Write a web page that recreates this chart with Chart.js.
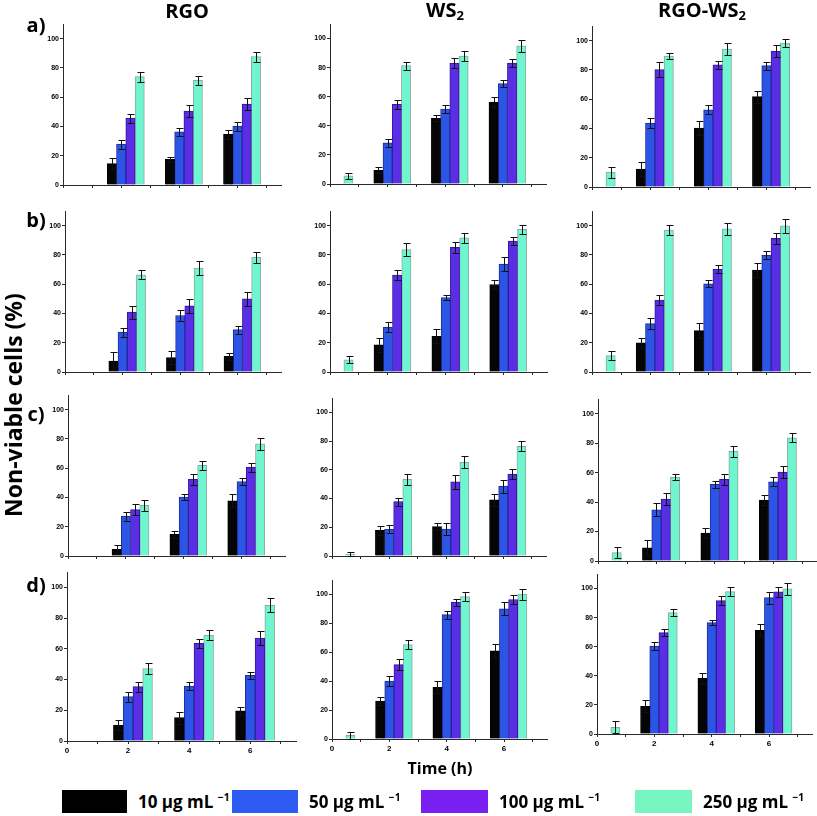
<!DOCTYPE html>
<html>
<head>
<meta charset="utf-8">
<script src="https://cdn.jsdelivr.net/npm/chart.js@4.4.0/dist/chart.umd.min.js"></script>
<style>
  body { margin: 0; background: #fff; }
  #page { position: relative; width: 817px; height: 816px; overflow: hidden; font-family: 'Open Sans', sans-serif; }
  #page canvas { position: absolute; }
  .txt { position: absolute; font-weight: bold; white-space: nowrap; color: #000; line-height: 1; }
  .center { transform: translate(-50%, -50%); }
  .swatch { position: absolute; }
  sub { font-size: 65%; vertical-align: -0.25em; }
  sup { font-size: 60%; vertical-align: 0.6em; }
</style>
</head>
<body>
<div id="page"></div>
<script>
// ---- data ----
const times = [0, 2, 4, 6];
const concentrations = ['10 μg mL', '50 μg mL', '100 μg mL', '250 μg mL'];
const materials = ['RGO', 'WS<sub>2</sub>', 'RGO-WS<sub>2</sub>'];
const rowLetters = ['a)', 'b)', 'c)', 'd)'];
const xTickLabels = [0, 2, 4, 6];

// non-viable cells (%), one row per concentration, one column per time
const aRGO = [[0, 14.6, 17.6, 34.7], [0, 27.9, 36.3, 40.2], [0, 45.7, 50.5, 55.3], [0, 74.0, 71.5, 87.7]];
const aRGOErr = [[0, 3.6, 1.8, 3.0], [0, 3.0, 2.5, 3.0], [0, 3.0, 4.0, 4.0], [0, 3.5, 3.0, 3.5]];
const aWS2 = [[0, 9.4, 45.1, 56.3], [0, 28.3, 51.5, 69.0], [0, 54.7, 83.2, 83.2], [5.7, 81.4, 88.0, 95.0]];
const aWS2Err = [[0, 2.0, 2.0, 3.5], [0, 2.8, 3.0, 2.3], [0, 3.3, 3.5, 3.0], [2.0, 2.7, 3.5, 4.0]];
const aMix = [[0, 12.3, 40.3, 61.7], [0, 43.7, 52.8, 82.9], [0, 80.2, 83.4, 92.7], [10.0, 89.5, 94.3, 98.4]];
const aMixErr = [[0, 4.6, 5.0, 4.0], [0, 3.3, 3.2, 2.7], [0, 5.0, 3.0, 4.0], [4.0, 2.3, 3.9, 3.0]];

const bRGO = [[0, 7.5, 9.8, 10.7], [0, 27.2, 38.6, 29.0], [0, 40.9, 45.2, 50.0], [0, 66.4, 71.0, 78.3]];
const bRGOErr = [[0, 6.0, 4.6, 2.3], [0, 3.2, 4.0, 2.7], [0, 4.5, 4.8, 5.0], [0, 3.0, 4.5, 3.9]];
const bWS2 = [[0, 18.5, 24.4, 59.8], [0, 30.6, 50.9, 73.7], [0, 66.2, 85.2, 89.5], [8.4, 83.6, 91.6, 97.5]];
const bWS2Err = [[0, 4.8, 4.8, 3.0], [0, 3.4, 2.0, 5.0], [0, 3.2, 3.9, 2.5], [2.5, 4.5, 3.5, 3.2]];
const bMix = [[0, 19.9, 28.3, 69.6], [0, 33.1, 60.3, 79.7], [0, 49.1, 70.1, 91.3], [11.2, 97.0, 97.9, 99.8]];
const bMixErr = [[0, 3.4, 5.3, 5.0], [0, 3.7, 2.5, 2.7], [0, 3.6, 2.7, 3.9], [3.2, 3.2, 4.0, 4.5]];

const cRGO = [[0, 4.6, 14.8, 37.7], [0, 27.2, 40.2, 50.9], [0, 31.7, 52.3, 60.7], [0, 34.7, 61.9, 76.7]];
const cRGOErr = [[0, 2.9, 2.3, 4.5], [0, 3.2, 2.0, 2.1], [0, 3.7, 3.9, 3.0], [0, 3.9, 3.2, 4.0]];
const cWS2 = [[0, 17.9, 20.5, 39.1], [0, 18.6, 18.8, 48.6], [0, 37.9, 51.6, 57.0], [1.2, 53.3, 65.3, 76.3]];
const cWS2Err = [[0, 3.0, 2.5, 4.0], [0, 2.7, 4.4, 4.4], [0, 2.8, 5.0, 3.7], [1.6, 3.9, 4.0, 3.5]];
const cMix = [[0, 9.0, 19.0, 41.4], [0, 34.8, 52.0, 53.8], [0, 42.1, 55.4, 60.4], [5.7, 56.8, 74.4, 83.7]];
const cMixErr = [[0, 5.0, 3.6, 3.6], [0, 4.5, 2.3, 3.0], [0, 3.8, 3.6, 4.0], [4.0, 2.0, 3.6, 3.2]];

const dRGO = [[0, 10.4, 15.2, 19.7], [0, 28.9, 35.8, 42.7], [0, 35.4, 63.6, 67.0], [0, 47.1, 69.0, 88.3]];
const dRGOErr = [[0, 3.0, 3.9, 2.6], [0, 3.2, 2.6, 2.4], [0, 3.2, 3.0, 4.6], [0, 3.7, 3.5, 4.5]];
const dWS2 = [[0, 26.3, 35.7, 61.0], [0, 40.1, 86.0, 90.1], [0, 51.4, 94.7, 96.5], [2.5, 65.4, 98.6, 100.2]];
const dWS2Err = [[0, 2.7, 4.2, 4.6], [0, 3.2, 2.8, 4.5], [0, 3.7, 2.5, 3.3], [2.5, 2.8, 3.0, 3.7]];
const dMix = [[0, 19.1, 38.2, 71.3], [0, 60.5, 76.6, 93.8], [0, 69.7, 91.7, 97.7], [4.6, 83.4, 97.9, 99.8]];
const dMixErr = [[0, 4.1, 3.6, 4.1], [0, 2.5, 2.0, 4.1], [0, 2.3, 3.2, 3.7], [4.1, 2.5, 3.3, 4.1]];

const panelValues = [[aRGO, aWS2, aMix], [bRGO, bWS2, bMix], [cRGO, cWS2, cMix], [dRGO, dWS2, dMix]];
const panelErrors = [[aRGOErr, aWS2Err, aMixErr], [bRGOErr, bWS2Err, bMixErr], [cRGOErr, cWS2Err, cMixErr], [dRGOErr, dWS2Err, dMixErr]];

// ---- styles / layout ----
const barColors = ['#050505', '#2c55e6', '#5a2ee4', '#6ff5d0'];
const barBorders = ['#000000', '#1c2f9a', '#33189a', '#8fa8a0'];
const legendColors = ['#000000', '#2d5cf2', '#7a1ff2', '#76f5c0'];

// [x of y-axis, y of zero line, px per 100 %, px per hour]
const panelGeom = [
  [[63, 185.3, 146, 29], [329.5, 184.3, 145, 28.8], [591.7, 187.3, 146.3, 29.1]],
  [[65.3, 371.7, 146, 28.75], [329.5, 371.7, 146, 28.9], [591.7, 371.7, 146, 29.1]],
  [[67.5, 555.7, 146, 28.9], [331.7, 555.7, 143.4, 28.5], [598, 560.7, 147.4, 29.15]],
  [[66.7, 741, 153.7, 30.5], [332.3, 739, 144.7, 28.7], [597.3, 734.3, 145, 28.7]]
];
const xMax = 7.5, yMax = 110;
const barShift = 0.16, barWidth = 0.32;
const padL = 30, padR = 6, padT = 10, padB = 20;

const page = document.getElementById('page');

const errorBars = {
  id: 'errorBars',
  afterDatasetsDraw(chart) {
    const ctx = chart.ctx;
    const ys = chart.scales.y;
    ctx.save();
    ctx.strokeStyle = '#111';
    ctx.lineWidth = 1;
    chart.data.datasets.forEach((ds, i) => {
      chart.getDatasetMeta(i).data.forEach((bar, j) => {
        const e = ds.errors[j];
        if (!e) return;
        const v = ds.data[j].y;
        const x = Math.round(bar.x) + 0.5;
        const top = Math.round(ys.getPixelForValue(v + e)) + 0.5;
        const bot = Math.round(ys.getPixelForValue(Math.max(v - e, 0))) + 0.5;
        ctx.beginPath();
        ctx.moveTo(x, top); ctx.lineTo(x, bot);
        ctx.moveTo(x - 3, top); ctx.lineTo(x + 4, top);
        ctx.moveTo(x - 3, bot); ctx.lineTo(x + 4, bot);
        ctx.stroke();
      });
    });
    ctx.restore();
  }
};

function makePanel(row, col) {
  const [x0, y0, s100, unit] = panelGeom[row][col];
  const chartW = Math.round(xMax * unit);
  const chartH = Math.round(yMax * s100 / 100);
  const canvas = document.createElement('canvas');
  canvas.width = padL + chartW + padR;
  canvas.height = padT + chartH + padB;
  canvas.style.left = (Math.round(x0) - padL) + 'px';
  canvas.style.top = (Math.round(y0) - chartH - padT) + 'px';
  page.appendChild(canvas);

  const values = panelValues[row][col];
  const errors = panelErrors[row][col];
  const bottomRow = row === panelGeom.length - 1;
  const axisColor = '#2a2a2a';

  new Chart(canvas.getContext('2d'), {
    type: 'bar',
    data: {
      datasets: concentrations.map((c, k) => ({
        label: c,
        data: times.map((t, j) => ({ x: t, y: values[k][j] })),
        errors: errors[k],
        xAxisID: 'xb',
        yAxisID: 'y',
        backgroundColor: barColors[k],
        borderColor: barBorders[k],
        borderWidth: 1,
        barThickness: barWidth * unit
      }))
    },
    options: {
      responsive: false,
      animation: false,
      layout: { padding: { left: 0, right: padR, top: padT, bottom: 0 } },
      plugins: { legend: { display: false }, tooltip: { enabled: false } },
      scales: {
        xb: { type: 'linear', display: false, offset: false, min: -barShift, max: xMax - barShift },
        x: {
          type: 'linear', position: 'bottom', min: 0, max: xMax, offset: false,
          afterFit: s => { s.height = padB; },
          border: { color: axisColor, width: 1 },
          grid: { drawOnChartArea: false, offset: false, tickLength: 3, color: axisColor },
          ticks: {
            stepSize: 1, includeBounds: false, autoSkip: false, maxRotation: 0, padding: 2,
            color: '#000', font: { family: 'Liberation Sans', size: 8, weight: 'bold' },
            callback: v => (bottomRow && xTickLabels.includes(v)) ? String(v) : ''
          }
        },
        y: {
          min: 0, max: yMax,
          afterFit: s => { s.width = padL; },
          border: { color: axisColor, width: 1 },
          grid: { drawOnChartArea: false, tickLength: 3, color: axisColor },
          ticks: {
            stepSize: 20, includeBounds: false, padding: 1,
            color: '#000', font: { family: 'Liberation Sans', size: 7, weight: 'bold' }
          }
        }
      }
    },
    plugins: [errorBars]
  });
}

for (let r = 0; r < 4; r++) for (let c = 0; c < 3; c++) makePanel(r, c);

function addText(html, x, y, size, extra) {
  const d = document.createElement('div');
  d.className = 'txt' + (extra || '');
  d.innerHTML = html;
  d.style.left = x + 'px';
  d.style.top = y + 'px';
  d.style.fontSize = size + 'px';
  page.appendChild(d);
  return d;
}

// column titles and row letters
const titleX = [187, 445, 702];
materials.forEach((m, i) => addText(m, titleX[i], 11, 20, ' center'));
const letterY = [25, 220, 414, 585];
rowLetters.forEach((l, i) => addText(l, 36, letterY[i], 20, ' center'));

// axis titles
const yTitle = addText('Non-viable cells (%)', 13, 405, 23, '');
yTitle.style.transform = 'translate(-50%, -50%) rotate(-90deg)';
addText('Time (h)', 440, 768, 16, ' center');

// legend
const legendX = [62, 232, 421, 635];
const legendW = [65, 66, 67, 57];
concentrations.forEach((c, k) => {
  const s = document.createElement('div');
  s.className = 'swatch';
  s.style.left = legendX[k] + 'px';
  s.style.top = '790px';
  s.style.width = legendW[k] + 'px';
  s.style.height = '23px';
  s.style.background = legendColors[k];
  page.appendChild(s);
  const t = addText(c + ' <sup>−1</sup>', legendX[k] + legendW[k] + 11, 801, 17, '');
  t.style.transform = 'translateY(-50%)';
});
</script>
</body>
</html>
